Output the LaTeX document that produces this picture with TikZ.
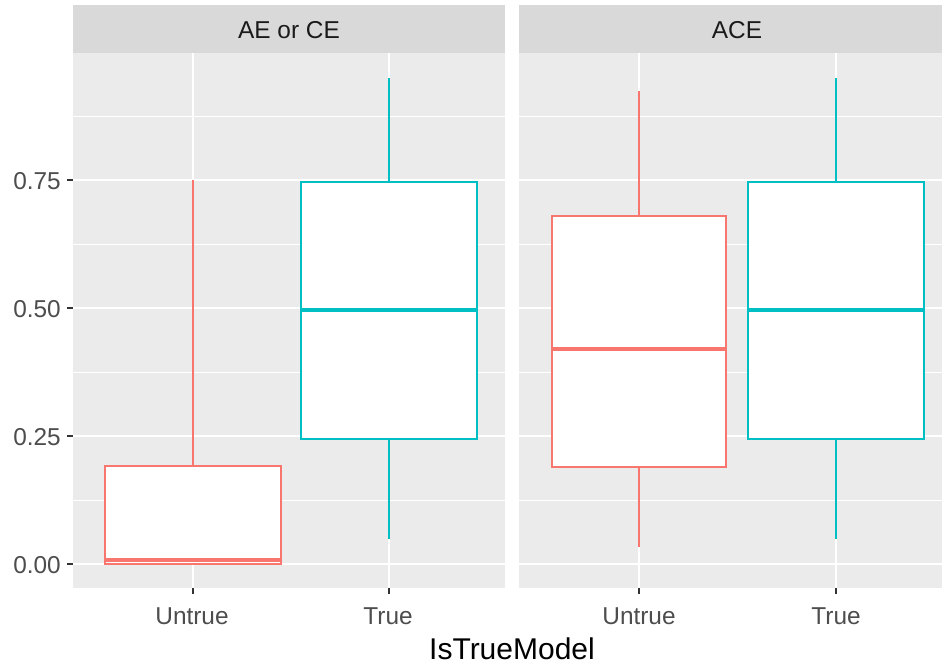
\documentclass[tikz,border=0pt]{standalone}
\usepackage{fontspec}
\setmainfont{Liberation Sans}
\definecolor{gpanel}{HTML}{EBEBEB}
\definecolor{gstrip}{HTML}{D9D9D9}
\definecolor{gred}{HTML}{F8766D}
\definecolor{gcyan}{HTML}{00BFC4}
\definecolor{gtext}{HTML}{4D4D4D}
\definecolor{gstriptext}{HTML}{1A1A1A}
\definecolor{gtick}{HTML}{333333}
\begin{document}
\begin{tikzpicture}[x=1pt,y=-1pt,
  panelbg/.style={fill=gpanel,draw=none},
  stripbg/.style={fill=gstrip,draw=none},
  majgrid/.style={draw=white,line width=1.6pt},
  mingrid/.style={draw=white,line width=0.8pt},
  whisk/.style={line width=1.8pt},
  boxst/.style={fill=white,line width=1.8pt},
  medst/.style={line width=3.6pt},
  tickst/.style={draw=gtick,line width=1.4pt},
  axtext/.style={text=gtext,font=\fontsize{24.4}{28}\selectfont,inner sep=0pt},
  striptext/.style={text=gstriptext,font=\fontsize{24.4}{28}\selectfont,inner sep=0pt},
  titletext/.style={text=black,font=\fontsize{30}{34}\selectfont,inner sep=0pt}]
\clip (0,0) rectangle (942,667);
\fill[white] (0,0) rectangle (942,667);
% strips
\fill[stripbg] (73,5) rectangle (505,53);
\fill[stripbg] (519,5) rectangle (955,53);
\node[striptext] (s1) at (289,30) {AE or CE};
\node[striptext] (s2) at (737,30) {ACE};
% panels
\fill[panelbg] (73,53) rectangle (505,588);
\fill[panelbg] (519,53) rectangle (955,588);
% grid lines
\foreach \xa/\xb in {73/505, 519/955}{
  \foreach \yy in {500,372,244,116}{\draw[mingrid] (\xa,\yy) -- (\xb,\yy);}
  \foreach \yy in {564,436,308,180}{\draw[majgrid] (\xa,\yy) -- (\xb,\yy);}
}
\foreach \xx in {193,389,639,836}{\draw[majgrid] (\xx,53) -- (\xx,588);}
% ticks
\foreach \yy in {564,436,308,180}{\draw[tickst] (67,\yy) -- (73,\yy);}
\foreach \xx in {193,389,639,836}{\draw[tickst] (\xx,588) -- (\xx,594);}
% y labels
\node[axtext,anchor=east] (y0) at (61,565) {0.00};
\node[axtext,anchor=east] (y1) at (61,437) {0.25};
\node[axtext,anchor=east] (y2) at (61,309) {0.50};
\node[axtext,anchor=east] (y3) at (61,181) {0.75};
% x labels
\node[axtext] (x1) at (192,616) {Untrue};
\node[axtext] (x2) at (388,616) {True};
\node[axtext] (x3) at (639,616) {Untrue};
\node[axtext] (x4) at (836,616) {True};
\node[titletext] (xt) at (512,649) {IsTrueModel};
% panel 1 Untrue
\draw[whisk,gred] (193,466) -- (193,180);
\draw[boxst,draw=gred] (105,466) rectangle (281,564);
\draw[medst,gred] (105,560) -- (281,560);
% panel 1 True
\draw[whisk,gcyan] (389,182) -- (389,78);
\draw[whisk,gcyan] (389,439) -- (389,539);
\draw[boxst,draw=gcyan] (301,182) rectangle (477,439);
\draw[medst,gcyan] (301,310) -- (477,310);
% panel 2 Untrue
\draw[whisk,gred] (639,216) -- (639,91);
\draw[whisk,gred] (639,467) -- (639,547);
\draw[boxst,draw=gred] (552,216) rectangle (726,467);
\draw[medst,gred] (552,349) -- (726,349);
% panel 2 True
\draw[whisk,gcyan] (836,182) -- (836,78);
\draw[whisk,gcyan] (836,439) -- (836,539);
\draw[boxst,draw=gcyan] (748,182) rectangle (924,439);
\draw[medst,gcyan] (748,310) -- (924,310);
\end{tikzpicture}
\end{document}
